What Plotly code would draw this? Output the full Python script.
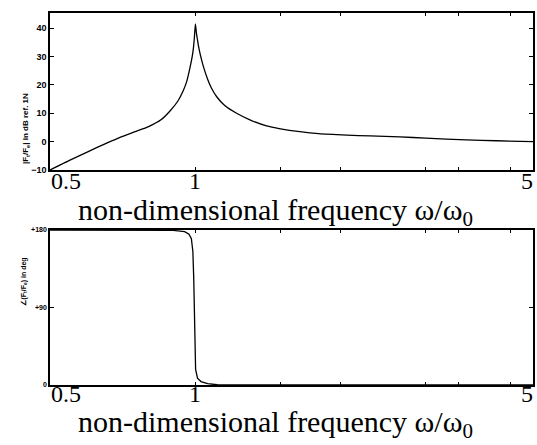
import math
import plotly.graph_objects as go

# Frequency response of the force ratio: magnitude (dB) and phase (deg)
freq_mag = [0.5, 0.55, 0.6, 0.65, 0.7, 0.75, 0.8, 0.85, 0.886, 0.92, 0.944, 0.96,
            0.975, 0.985, 0.99, 0.995, 1.0, 1.005, 1.01, 1.015, 1.023, 1.039, 1.06, 1.08,
            1.107, 1.15, 1.217, 1.3, 1.404, 1.5, 1.645, 1.8, 2.06, 2.3, 2.65, 3.0,
            3.64, 4.2, 5.0]
mag_db = [-10, -6.5, -3.5, -0.8, 1.6, 3.5, 5.3, 7.8, 10.8, 14.3, 18, 21.3,
          26.2, 30, 32.6, 36.5, 41.5, 38.2, 35.8, 33.6, 30.8, 26.4, 22, 18.8,
          15.8, 12.7, 10, 7.6, 5.5, 4.5, 3.5, 2.8, 2.3, 2.0, 1.7, 1.2,
          0.6, 0.3, 0.0]

freq_phase = [0.5, 0.8, 0.9, 0.95, 0.97, 0.981, 0.988, 0.992, 0.995, 0.998,
              1.001, 1.01, 1.027, 1.06, 1.11, 1.2, 5.0]
phase_deg = [180, 180, 179.5, 178, 175, 170, 155, 125, 90, 50,
             18, 8, 4, 1.5, 0.3, 0, 0]

x_tick_vals = [0.5, 1, 5]
x_tick_text = ["0.5", "1", "5"]
x_minor_vals = [1.5, 2, 3, 3.5, 4.5]
mag_tick_vals = [-10, 0, 10, 20, 30, 40]
phase_tick_vals = [0, 90, 180]
phase_tick_text = ["0", "+90", "+180"]

W, H = 537, 445
xdom = [50 / W, 533 / W]
top_dom = [1 - 170 / H, 1 - 13 / H]
bot_dom = [1 - 385 / H, 1 - 230 / H]

fig = go.Figure()
fig.add_trace(go.Scatter(x=freq_mag, y=mag_db, mode="lines",
                         line=dict(color="black", width=1.3, shape="spline",
                                   smoothing=0.5),
                         xaxis="x", yaxis="y", showlegend=False))
fig.add_trace(go.Scatter(x=freq_phase, y=phase_deg, mode="lines",
                         line=dict(color="black", width=1.3),
                         xaxis="x2", yaxis="y2", showlegend=False))

xr = [math.log10(0.5), math.log10(5)]
common_x = dict(type="log", range=xr, showgrid=False, zeroline=False,
                showline=True, linecolor="black", linewidth=1.5, mirror="ticks",
                ticks="inside", ticklen=3, tickcolor="black",
                tickvals=x_tick_vals, showticklabels=False,
                minor=dict(tickvals=x_minor_vals, ticks="inside", ticklen=3,
                           tickcolor="black"))
common_y = dict(showgrid=False, zeroline=False, showline=True, linecolor="black",
                linewidth=1.5, mirror="ticks", ticks="inside", ticklen=4,
                tickcolor="black", automargin=False)

fig.update_layout(
    width=W, height=H,
    margin=dict(l=0, r=0, t=0, b=0),
    paper_bgcolor="white", plot_bgcolor="white",
    xaxis=dict(domain=xdom, anchor="y", **common_x),
    yaxis=dict(domain=top_dom, anchor="x", range=[-10, 45.3],
               tickvals=mag_tick_vals,
               tickfont=dict(family="Liberation Sans", size=9, color="black",
                             weight="bold"),
               **common_y),
    xaxis2=dict(domain=xdom, anchor="y2", **common_x),
    yaxis2=dict(domain=bot_dom, anchor="x2", range=[0, 180],
                tickvals=phase_tick_vals, ticktext=phase_tick_text,
                tickfont=dict(family="Liberation Sans", size=7, color="black",
                              weight="bold"),
                **common_y),
)

tick_font = dict(family="Liberation Serif", size=24, color="black")
title_font = dict(family="Liberation Serif", size=30, color="black")
anchors = {"0.5": "left", "1": "center", "5": "center"}
for xa, ybase, kshift, tshift in (("x", top_dom[0], 3, -22),
                                  ("x2", bot_dom[0], 5, -19)):
    for v, t in zip(x_tick_vals, x_tick_text):
        fig.add_annotation(x=math.log10(v), y=ybase, xref=xa, yref="paper",
                           text=t, showarrow=False, xanchor=anchors[t],
                           yanchor="top", yshift=kshift, font=tick_font,
                           borderpad=0, xshift=-6 if t == "5" else 0)
    fig.add_annotation(x=275 / W, y=ybase, xref="paper", yref="paper",
                       text="non-dimensional frequency ω/ω<sub>0</sub>",
                       showarrow=False, xanchor="center", yanchor="top",
                       borderpad=0, yshift=tshift, font=title_font)

fig.add_annotation(x=19 / W, y=sum(top_dom) / 2, xref="paper", yref="paper",
                   text="<b>|F<sub>t</sub>/F<sub>e</sub>| in dB ref. 1N</b>",
                   textangle=-90, showarrow=False,
                   font=dict(family="Liberation Sans", size=8, color="black"))
fig.add_annotation(x=17 / W, y=sum(bot_dom) / 2, xref="paper", yref="paper",
                   text="<b>∠(F<sub>t</sub>/F<sub>e</sub>) in deg</b>",
                   textangle=-90, showarrow=False,
                   font=dict(family="Liberation Sans", size=7, color="black"))

fig.write_html("out.html")
